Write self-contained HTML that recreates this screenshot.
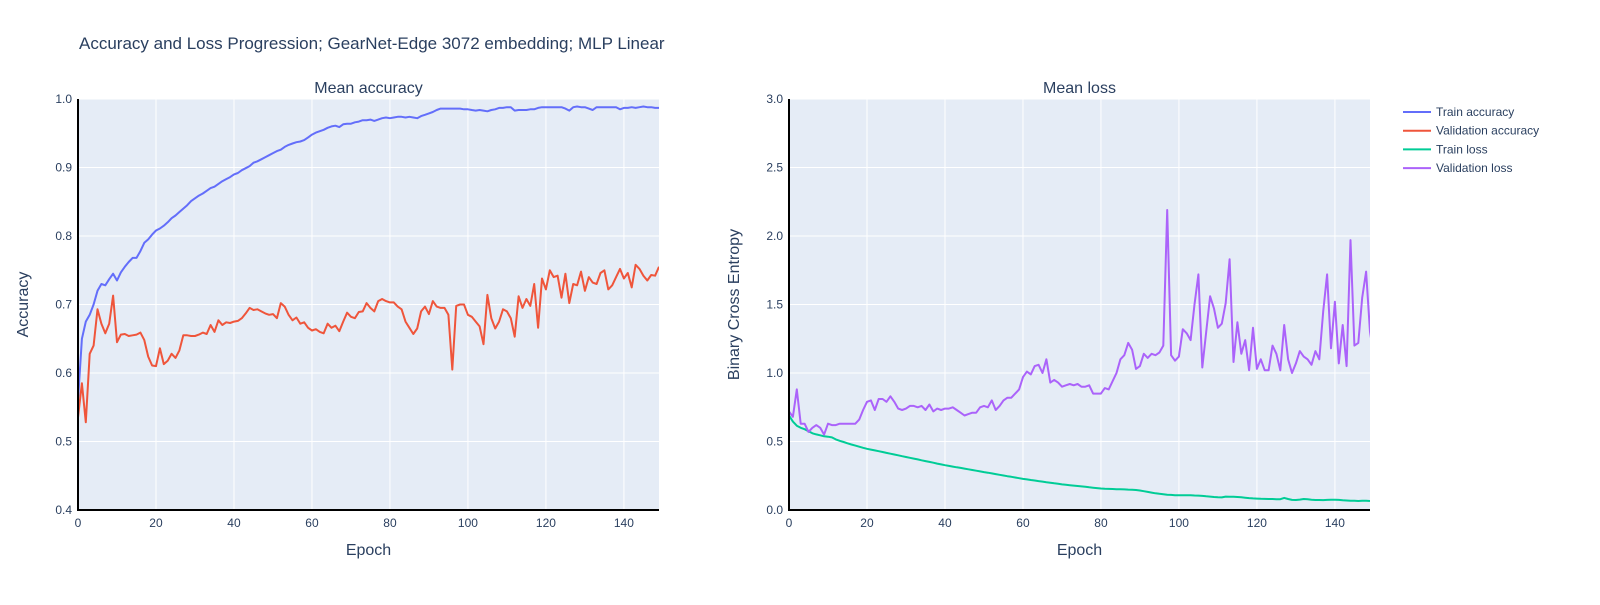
<!DOCTYPE html>
<html><head><meta charset="utf-8">
<style>
body{margin:0;background:#fff;font-family:"Liberation Sans",Arial,sans-serif;}
svg text{font-family:"Liberation Sans",Arial,sans-serif;fill:#2a3f5f;}
</style></head>
<body>
<svg id="chart" width="1600" height="600" xmlns="http://www.w3.org/2000/svg">
<text x="79" y="49" font-size="17">Accuracy and Loss Progression; GearNet-Edge 3072 embedding; MLP Linear</text>
</svg>
<script>
const trainAcc=[0.56,0.65,0.675,0.685,0.70,0.72,0.73,0.728,0.737,0.745,0.735,0.747,0.755,0.762,0.768,0.768,0.778,0.79,0.795,0.802,0.808,0.811,0.815,0.82,0.826,0.83,0.835,0.84,0.845,0.851,0.855,0.859,0.862,0.866,0.87,0.872,0.876,0.88,0.883,0.886,0.89,0.892,0.896,0.899,0.902,0.907,0.909,0.912,0.915,0.918,0.921,0.924,0.926,0.93,0.933,0.935,0.937,0.938,0.94,0.944,0.948,0.951,0.953,0.955,0.958,0.96,0.961,0.959,0.963,0.964,0.964,0.966,0.967,0.969,0.969,0.97,0.968,0.97,0.972,0.973,0.972,0.973,0.974,0.974,0.973,0.974,0.973,0.972,0.975,0.977,0.979,0.981,0.984,0.986,0.986,0.986,0.986,0.986,0.986,0.985,0.985,0.984,0.983,0.984,0.983,0.982,0.984,0.985,0.987,0.987,0.988,0.988,0.983,0.984,0.984,0.984,0.985,0.985,0.987,0.988,0.988,0.988,0.988,0.988,0.988,0.986,0.983,0.988,0.989,0.988,0.988,0.986,0.984,0.988,0.988,0.988,0.988,0.988,0.988,0.985,0.987,0.987,0.988,0.987,0.988,0.989,0.988,0.988,0.987,0.987];
const valAcc=[0.535,0.585,0.528,0.628,0.64,0.693,0.672,0.658,0.672,0.713,0.645,0.656,0.657,0.654,0.655,0.656,0.659,0.648,0.624,0.611,0.61,0.636,0.613,0.618,0.628,0.622,0.633,0.655,0.655,0.654,0.654,0.656,0.659,0.657,0.67,0.66,0.677,0.67,0.674,0.673,0.675,0.676,0.68,0.687,0.695,0.692,0.693,0.69,0.687,0.685,0.686,0.68,0.702,0.697,0.685,0.677,0.681,0.672,0.674,0.666,0.662,0.664,0.66,0.658,0.672,0.666,0.669,0.661,0.675,0.688,0.682,0.68,0.689,0.69,0.702,0.695,0.69,0.705,0.708,0.705,0.703,0.703,0.697,0.693,0.675,0.666,0.657,0.665,0.69,0.697,0.686,0.705,0.697,0.695,0.695,0.685,0.605,0.698,0.7,0.7,0.685,0.682,0.675,0.668,0.642,0.714,0.68,0.665,0.675,0.693,0.69,0.68,0.653,0.712,0.695,0.708,0.698,0.73,0.666,0.738,0.722,0.75,0.74,0.742,0.71,0.745,0.702,0.73,0.728,0.748,0.72,0.74,0.732,0.73,0.746,0.75,0.722,0.728,0.74,0.752,0.738,0.746,0.725,0.758,0.752,0.742,0.735,0.743,0.742,0.755];
const trainLoss=[0.69,0.645,0.615,0.6,0.59,0.575,0.56,0.552,0.545,0.538,0.535,
0.53,0.515,0.505,0.496,0.487,0.478,0.47,0.462,0.454,0.447,
0.441,0.435,0.429,0.423,0.417,0.411,0.405,0.399,0.393,0.387,
0.381,0.375,0.369,0.363,0.357,0.351,0.345,0.339,0.333,0.327,
0.322,0.317,0.312,0.307,0.302,0.297,0.292,0.287,0.282,0.277,
0.272,0.267,0.262,0.257,0.252,0.247,0.242,0.237,0.232,0.227,
0.223,0.219,0.215,0.211,0.207,0.203,0.199,0.195,0.191,0.187,
0.184,0.181,0.178,0.175,0.172,0.169,0.166,0.163,0.16,0.157,
0.155,0.154,0.153,0.152,0.151,0.15,0.149,0.148,0.146,0.142,
0.137,0.132,0.127,0.122,0.118,0.115,0.112,0.11,0.108,0.107,
0.107,0.107,0.107,0.106,0.105,0.103,0.1,0.098,0.095,0.093,
0.092,0.098,0.097,0.096,0.095,0.093,0.09,0.087,0.085,0.083,
0.082,0.081,0.08,0.08,0.079,0.079,0.088,0.08,0.074,0.073,
0.076,0.08,0.078,0.075,0.073,0.073,0.072,0.074,0.075,0.075,
0.074,0.071,0.069,0.068,0.067,0.066,0.067,0.067,0.066];
const valLoss=[0.72,0.68,0.88,0.63,0.63,0.57,0.6,0.62,0.6,0.55,0.63,0.62,0.62,0.63,0.63,0.63,0.63,0.63,0.66,0.73,0.79,0.8,0.73,0.81,0.81,0.79,0.83,0.79,0.74,0.73,0.74,0.76,0.76,0.75,0.76,0.73,0.77,0.72,0.74,0.73,0.74,0.74,0.75,0.73,0.71,0.69,0.7,0.71,0.71,0.75,0.76,0.75,0.8,0.73,0.76,0.8,0.82,0.82,0.85,0.88,0.97,1.01,0.99,1.05,1.06,1.0,1.1,0.93,0.95,0.93,0.9,0.91,0.92,0.91,0.92,0.9,0.9,0.91,0.85,0.85,0.85,0.89,0.88,0.94,1.0,1.1,1.13,1.22,1.17,1.03,1.05,1.14,1.11,1.14,1.13,1.15,1.2,2.19,1.13,1.09,1.12,1.32,1.29,1.24,1.5,1.72,1.04,1.3,1.56,1.47,1.33,1.36,1.51,1.83,1.08,1.37,1.14,1.24,1.02,1.33,1.03,1.1,1.02,1.02,1.2,1.14,1.02,1.35,1.1,1.0,1.07,1.16,1.12,1.1,1.06,1.16,1.1,1.45,1.72,1.18,1.52,1.07,1.35,1.05,1.97,1.2,1.22,1.55,1.74,1.3,1.12,1.55];
const xTicks=[0,20,40,60,80,100,120,140];
const accTicks=[0.4,0.5,0.6,0.7,0.8,0.9,1.0];
const lossTicks=[0,0.5,1,1.5,2,2.5,3];
const legendLabels=["Train accuracy","Validation accuracy","Train loss","Validation loss"];

const NS="http://www.w3.org/2000/svg";
const svg=document.getElementById('chart');
function mk(t,a,p){const e=document.createElementNS(NS,t);for(const k in a)e.setAttribute(k,a[k]);(p||svg).appendChild(e);return e;}
function panel(px0,px1,py0,py1,ymin,ymax,yTicks,fmt,series,title,ytitle,nm){
  const X=v=>px0+(v/149)*(px1-px0);
  const Y=v=>py1-(v-ymin)/(ymax-ymin)*(py1-py0);
  const bg=mk('rect',{x:px0,y:py0,width:px1-px0,height:py1-py0,fill:'#e5ecf6'});
  
  
  xTicks.forEach(t=>{
    const g=mk('line',{x1:X(t),x2:X(t),y1:py0,y2:py1,stroke:'#fff','stroke-width':1});
    
    
    const l=mk('text',{x:X(t),y:py1+17,'font-size':12,'text-anchor':'middle'});l.textContent=t;
    
    
  });
  yTicks.forEach(t=>{
    const g=mk('line',{x1:px0,x2:px1,y1:Y(t),y2:Y(t),stroke:'#fff','stroke-width':1});
    
    
    const l=mk('text',{x:px0-6,y:Y(t)+4,'font-size':12,'text-anchor':'end'});l.textContent=fmt(t);
    
    
  });
  const clip=mk('clipPath',{id:'c'+nm});mk('rect',{x:px0,y:py0,width:px1-px0,height:py1-py0},clip);
  series.forEach(s=>{
    const d=s.data.map((v,i)=>(i?'L':'M')+X(i).toFixed(1)+','+Y(v).toFixed(1)).join('');
    const p=mk('path',{d:d,fill:'none',stroke:s.color,'stroke-width':2,'stroke-linejoin':'round','clip-path':'url(#c'+nm+')'});
    
    
  });
  const ax=mk('line',{x1:px0,x2:px0,y1:py0,y2:py1+1,stroke:'#000','stroke-width':2});
  
  
  const bx=mk('line',{x1:px0-1,x2:px1,y1:py1,y2:py1,stroke:'#000','stroke-width':2});
  
  
  const tt=mk('text',{x:(px0+px1)/2,y:93,'font-size':16,'text-anchor':'middle'});tt.textContent=title;
  
  
  const xt=mk('text',{x:(px0+px1)/2,y:555,'font-size':16,'text-anchor':'middle'});xt.textContent='Epoch';
  
  
  const yx=px0-50, yy=(py0+py1)/2;
  const yt=mk('text',{x:yx,y:yy,'font-size':16,'text-anchor':'middle',transform:`rotate(-90 ${yx} ${yy})`});yt.textContent=ytitle;
  
  
}
const colors=['#636efa','#ef553b','#00cc96','#ab63fa'];
panel(78,659,99,510,0.4,1.0,accTicks,t=>t.toFixed(1),[{data:trainAcc,color:colors[0],name:'train-accuracy-line'},{data:valAcc,color:colors[1],name:'validation-accuracy-line'}],'Mean accuracy','Accuracy','accuracy');
panel(789,1370,99,510,0,3,lossTicks,t=>t.toFixed(1),[{data:trainLoss,color:colors[2],name:'train-loss-line'},{data:valLoss,color:colors[3],name:'validation-loss-line'}],'Mean loss','Binary Cross Entropy','loss');
legendLabels.forEach((lab,i)=>{
  const y=112+i*18.7;
  const g=mk('g',{});
  
  
  mk('line',{x1:1403,x2:1431,y1:y,y2:y,stroke:colors[i],'stroke-width':2},g);
  const t=mk('text',{x:1436,y:y+4,'font-size':12},g);t.textContent=lab;
});
</script>
</body></html>
